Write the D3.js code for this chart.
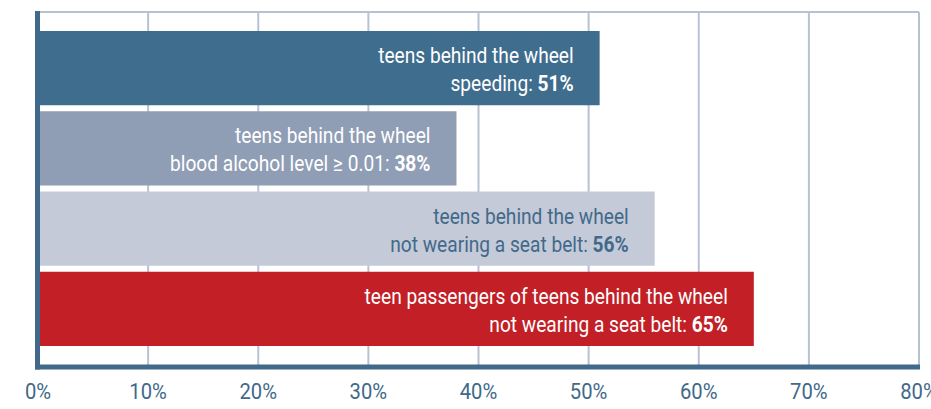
<!DOCTYPE html>
<html>
<head>
<meta charset="utf-8">
<script src="https://cdn.jsdelivr.net/npm/d3@7"></script>
<style>
  body { margin: 0; background: #fff; }
  svg { display: block; font-family: "Roboto", "Liberation Sans", sans-serif; }
</style>
</head>
<body>
<script>
// chart data
const labelTop = [
  "teens behind the wheel",
  "teens behind the wheel",
  "teens behind the wheel",
  "teen passengers of teens behind the wheel"
];
const labelBottom = [
  "speeding: ",
  "blood alcohol level \u2265 0.01: ",
  "not wearing a seat belt: ",
  "not wearing a seat belt: "
];
const values = [51, 38, 56, 65];
const ticks = [0, 10, 20, 30, 40, 50, 60, 70, 80];

const barColors = ["#3f6d8e", "#8f9db5", "#c5cad8", "#c21f26"];
const textColors = ["#ffffff", "#ffffff", "#41698a", "#ffffff"];

const width = 931, height = 409;
const svg = d3.select("body").append("svg")
  .attr("width", width)
  .attr("height", height);

const x = d3.scaleLinear().domain([0, 80]).range([38, 919]);
const y = d3.scaleBand()
  .domain(d3.range(values.length))
  .range([28, 349])
  .paddingInner(0.075)
  .paddingOuter(0.0375);

const plotTop = 12, plotBottom = 367;
const squeeze = 0.87; // narrow the font, the original uses a condensed face

// grid
svg.append("g")
  .attr("stroke", "#b8c2d4")
  .attr("stroke-width", 2)
  .selectAll("line")
  .data(ticks.slice(1))
  .join("line")
  .attr("x1", d => x(d)).attr("x2", d => x(d))
  .attr("y1", plotTop).attr("y2", plotBottom);

svg.append("line")
  .attr("x1", x(0)).attr("x2", x(80))
  .attr("y1", plotTop).attr("y2", plotTop)
  .attr("stroke", "#b8c2d4").attr("stroke-width", 2);

// bars
svg.append("g")
  .selectAll("rect")
  .data(values)
  .join("rect")
  .attr("x", x(0))
  .attr("y", (d, i) => y(i))
  .attr("width", d => x(d) - x(0))
  .attr("height", y.bandwidth())
  .attr("fill", (d, i) => barColors[i]);

// bar labels
const lab = svg.append("g")
  .selectAll("text")
  .data(values)
  .join("text")
  .attr("transform", (d, i) => `translate(${x(d) - 26},${y(i)}) scale(${squeeze},1)`)
  .attr("text-anchor", "end")
  .attr("font-size", 22)
  .attr("fill", (d, i) => textColors[i]);

lab.append("tspan")
  .attr("x", 0)
  .attr("y", 32)
  .text((d, i) => labelTop[i]);

const l2 = lab.append("tspan")
  .attr("x", 0)
  .attr("y", 60);
l2.append("tspan").text((d, i) => labelBottom[i]);
l2.append("tspan").attr("font-weight", "bold").text(d => d + "%");

// axes lines
svg.append("line")
  .attr("x1", 37.5).attr("x2", 37.5)
  .attr("y1", plotTop - 1).attr("y2", plotBottom + 2.5)
  .attr("stroke", "#41698a").attr("stroke-width", 5);

svg.append("line")
  .attr("x1", 35).attr("x2", x(80) + 1)
  .attr("y1", plotBottom).attr("y2", plotBottom)
  .attr("stroke", "#41698a").attr("stroke-width", 5);

// tick labels
svg.append("g")
  .selectAll("text")
  .data(ticks)
  .join("text")
  .attr("transform", d => `translate(${x(d)},399) scale(0.92,1)`)
  .attr("text-anchor", "middle")
  .attr("font-size", 22)
  .attr("fill", "#41698a")
  .text(d => d + "%");
</script>
</body>
</html>
